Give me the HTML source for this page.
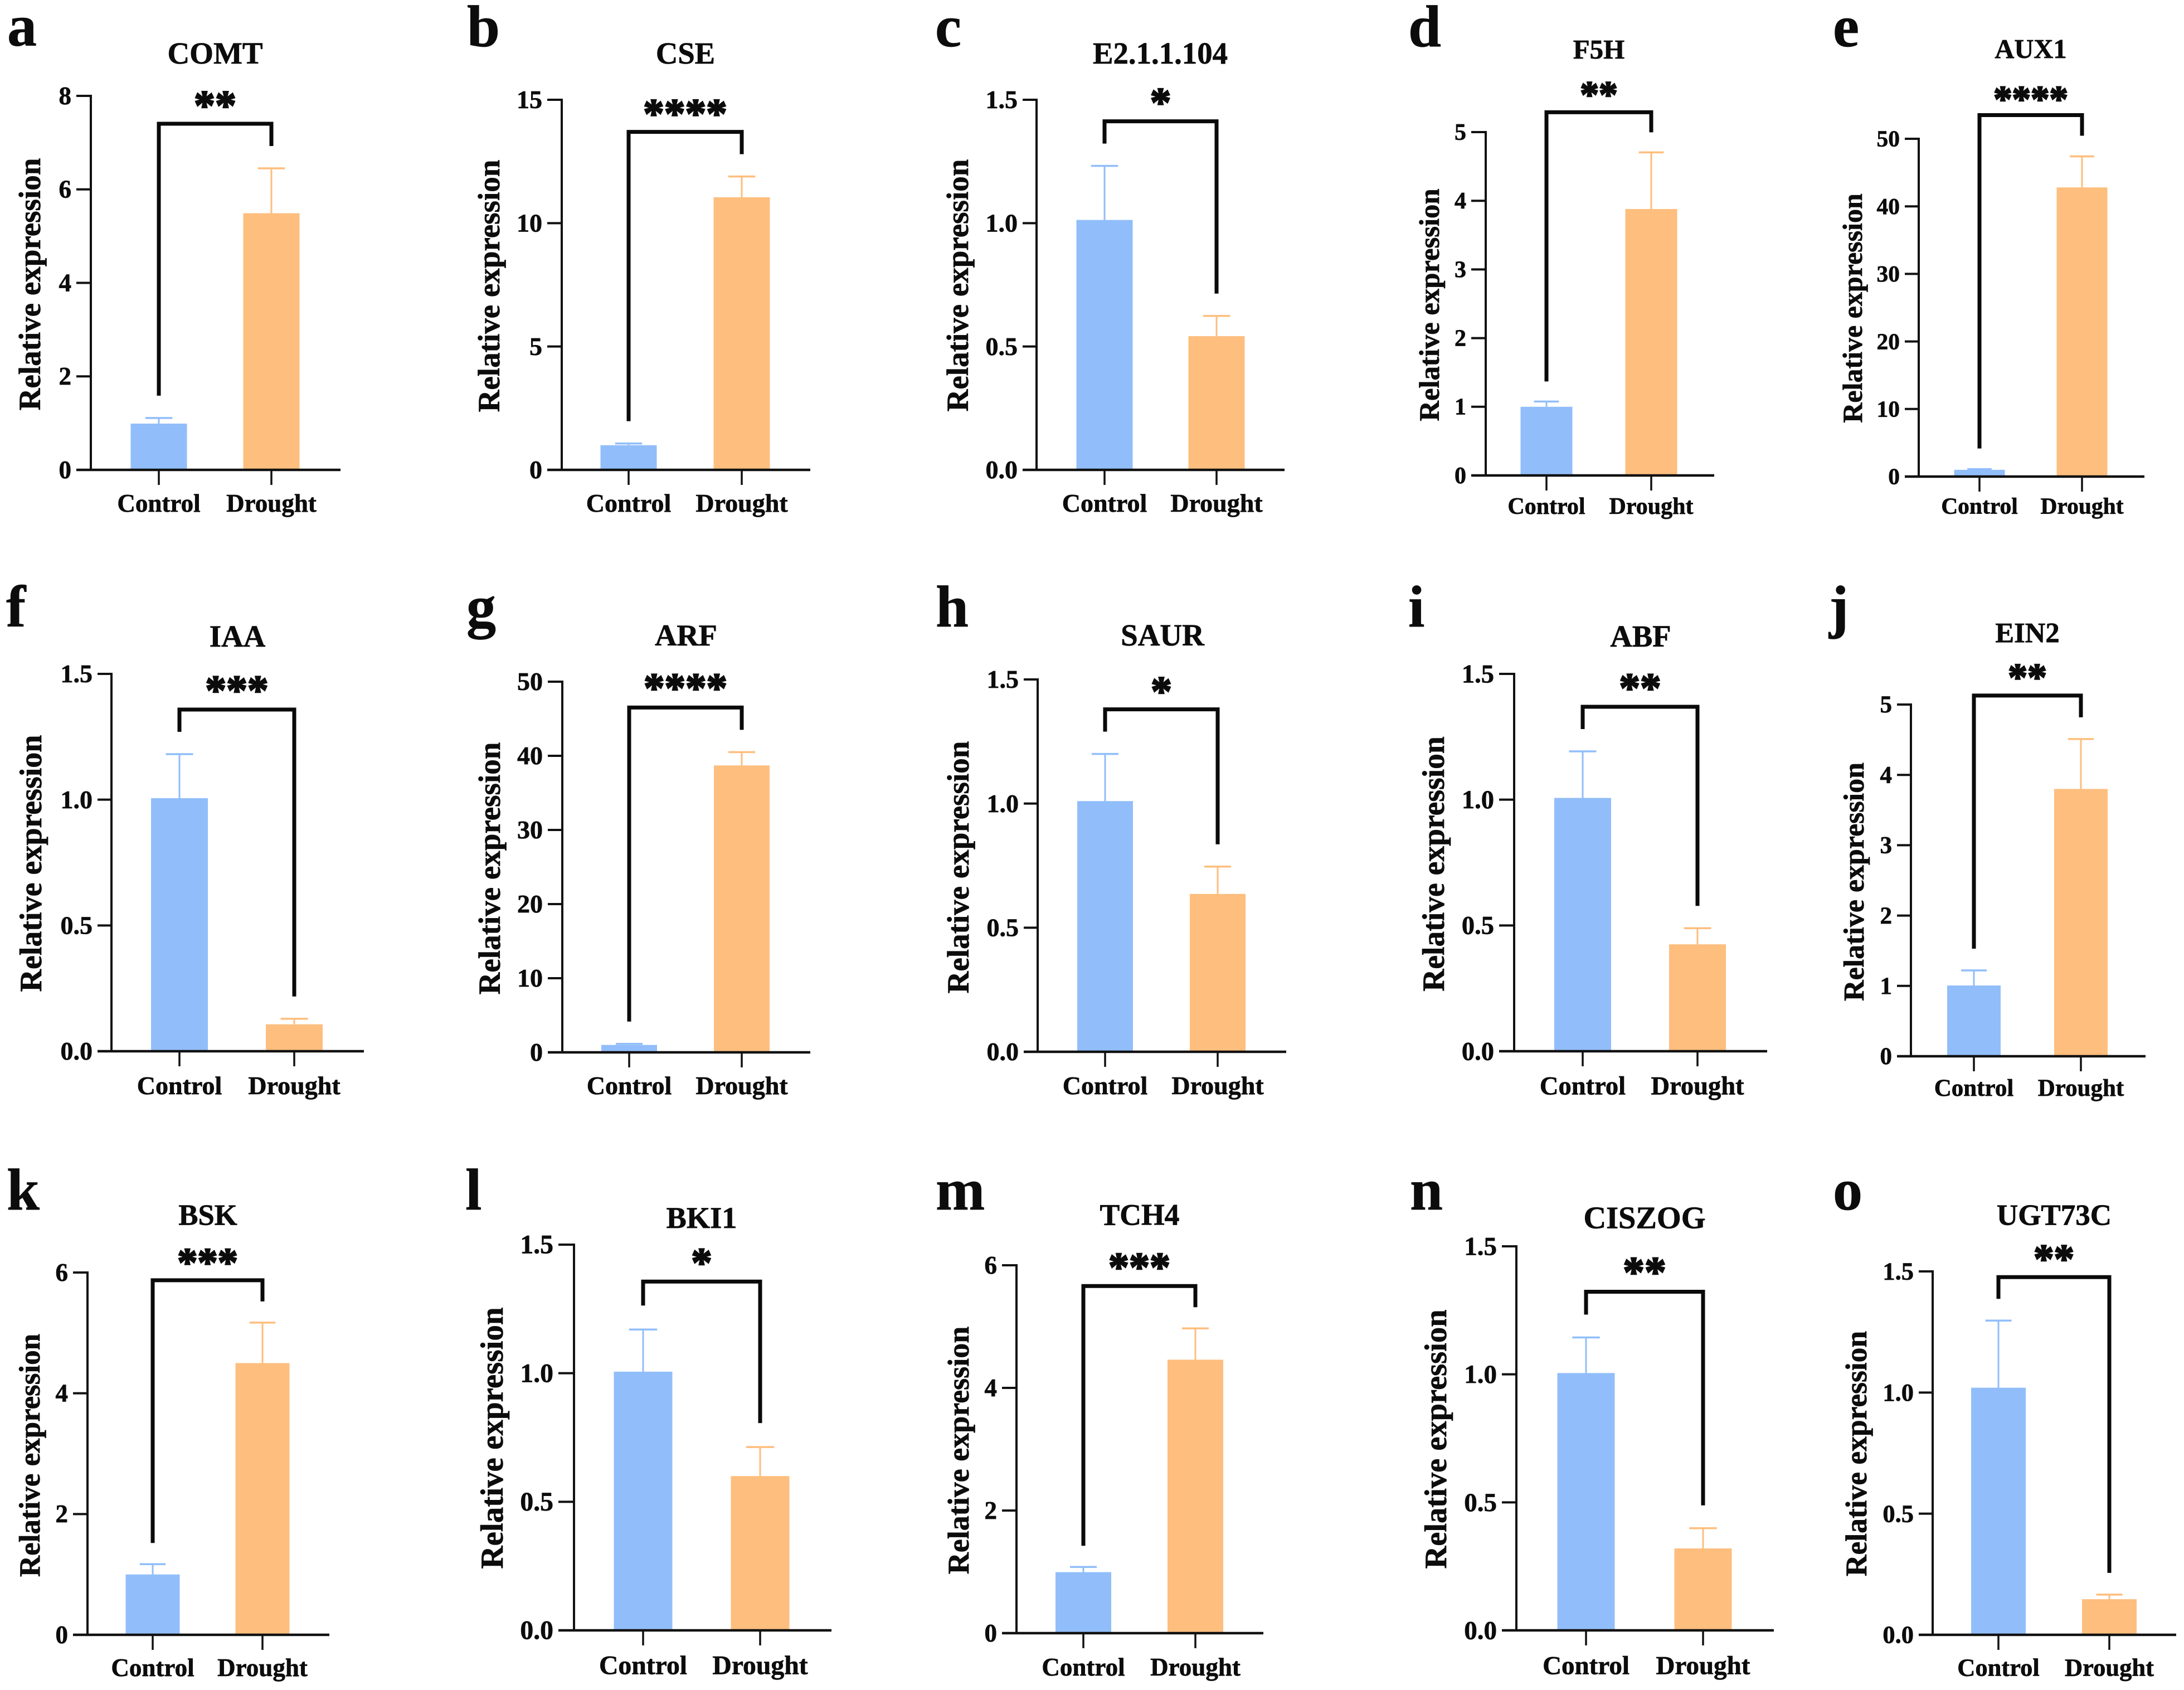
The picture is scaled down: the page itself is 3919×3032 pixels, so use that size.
<!DOCTYPE html>
<html lang="en">
<head>
<meta charset="utf-8">
<title>Relative expression of genes under drought</title>
<style>
html,body{margin:0;padding:0;background:#fff;}
svg{display:block;}
text{font-family:"Liberation Serif","Noto Serif CJK SC",serif;font-weight:700;fill:#0c0c0c;stroke:#0c0c0c;stroke-width:0.7px;}
</style>
</head>
<body>
<svg id="figure" xmlns="http://www.w3.org/2000/svg" width="3919" height="3032" viewBox="0 0 3919 3032">
<rect x="0" y="0" width="3919" height="3032" fill="#ffffff"/>
</svg>
<script>
// ---- chart data ----
const panelLetters = ['a','b','c','d','e','f','g','h','i','j','k','l','m','n','o'];
const geneNames = ['COMT','CSE','E2.1.1.104','F5H','AUX1','IAA','ARF','SAUR','ABF','EIN2','BSK','BKI1','TCH4','CISZOG','UGT73C'];
const categories = ['Control','Drought'];
const yAxisTitle = 'Relative expression';
const controlMeans = [0.99,1.0,1.013,1.0,1.0,1.006,1.0,1.01,1.007,1.006,1.0,1.006,0.995,1.005,1.02];
const controlErrors = [0.12,0.07,0.219,0.077,0.1,0.175,0.15,0.19,0.185,0.214,0.17,0.164,0.085,0.139,0.277];
const droughtMeans = [5.49,11.05,0.542,3.88,42.8,0.107,38.7,0.636,0.425,3.8,4.5,0.6,4.46,0.32,0.147];
const droughtErrors = [0.96,0.84,0.082,0.825,4.6,0.022,1.8,0.11,0.064,0.71,0.67,0.113,0.51,0.079,0.019];
const significance = ['**','****','*','**','****','***','****','*','**','**','***','*','***','**','**'];
const tickLabels = [
  ['0','2','4','6','8'],
  ['0','5','10','15'],
  ['0.0','0.5','1.0','1.5'],
  ['0','1','2','3','4','5'],
  ['0','10','20','30','40','50'],
  ['0.0','0.5','1.0','1.5'],
  ['0','10','20','30','40','50'],
  ['0.0','0.5','1.0','1.5'],
  ['0.0','0.5','1.0','1.5'],
  ['0','1','2','3','4','5'],
  ['0','2','4','6'],
  ['0.0','0.5','1.0','1.5'],
  ['0','2','4','6'],
  ['0.0','0.5','1.0','1.5'],
  ['0.0','0.5','1.0','1.5']
];

// ---- page geometry (plot frames, not data) ----
const frames = [
  {ax:163,top:172,y0:843,xEnd:611,tl:137,c1:285,c2:487,bw:101,tx:386,ty:96,tfs:55,ylB:72,ylC:510,yfs:55,tick:45,lab:903,lx:13,lb:82,gap:40,sg:43},
  {ax:1008,top:179,y0:843,xEnd:1454,tl:982,c1:1128,c2:1331,bw:101,tx:1230,ty:96,tfs:54.6,ylB:896,ylC:513,yfs:55,tick:46,lab:903,lx:838,lb:83,gap:40,sg:43},
  {ax:1860,top:179,y0:843,xEnd:2305,tl:1835,c1:1982,c2:2183,bw:101,tx:2082,ty:96,tfs:54.8,ylB:1737,ylC:512,yfs:55,tick:46,lab:903,lx:1678,lb:83,gap:40,sg:44},
  {ax:2666,top:237,y0:853,xEnd:3076,tl:2640,c1:2775,c2:2963,bw:93,tx:2869,ty:89,tfs:49,ylB:2582,ylC:547,yfs:50.7,tick:42,lab:908,lx:2527,lb:83,gap:36,sg:41},
  {ax:3443,top:249,y0:855,xEnd:3848,tl:3418,c1:3552,c2:3736,bw:91,tx:3644,ty:88,tfs:48.5,ylB:3341,ylC:553,yfs:50,tick:41.5,lab:908,lx:3289,lb:83,gap:37,sg:38},
  {ax:200,top:1209,y0:1886,xEnd:653,tl:175,c1:322,c2:528,bw:102,tx:426,ty:1142,tfs:54.8,ylB:74,ylC:1549,yfs:56,tick:46,lab:1948,lx:11,lb:1124,gap:40,sg:45},
  {ax:1009,top:1223,y0:1888,xEnd:1454,tl:983,c1:1129,c2:1331,bw:100,tx:1231,ty:1140,tfs:54.4,ylB:897,ylC:1558,yfs:55,tick:46,lab:1948,lx:837,lb:1124,gap:40,sg:45},
  {ax:1862,top:1219,y0:1887,xEnd:2308,tl:1837,c1:1983,c2:2185,bw:100,tx:2086,ty:1140,tfs:55,ylB:1738,ylC:1556,yfs:55,tick:46,lab:1948,lx:1679,lb:1124,gap:40,sg:43},
  {ax:2717,top:1209,y0:1886,xEnd:3171,tl:2690,c1:2840,c2:3046,bw:102,tx:2944,ty:1142,tfs:54.6,ylB:2591,ylC:1550,yfs:55.6,tick:46.5,lab:1948,lx:2527,lb:1124,gap:40,sg:44},
  {ax:3429,top:1264,y0:1895,xEnd:3850,tl:3404,c1:3542,c2:3734,bw:96,tx:3638,ty:1136,tfs:50.6,ylB:3344,ylC:1582,yfs:52,tick:43,lab:1952,lx:3282,lb:1124,gap:39,sg:42},
  {ax:157,top:2283,y0:2933,xEnd:591,tl:131,c1:274,c2:471,bw:97,tx:373,ty:2180,tfs:52.6,ylB:71,ylC:2611,yfs:53,tick:45,lab:2992,lx:12,lb:2170,gap:38,sg:42},
  {ax:1030,top:2233,y0:2925,xEnd:1492,tl:1002,c1:1154,c2:1364,bw:105,tx:1259,ty:2185,tfs:54.3,ylB:902,ylC:2580,yfs:57,tick:47.7,lab:2988,lx:835,lb:2170,gap:43,sg:44},
  {ax:1824,top:2270,y0:2930,xEnd:2267,tl:1798,c1:1944,c2:2145,bw:100,tx:2045,ty:2180,tfs:53.6,ylB:1738,ylC:2602,yfs:54,tick:45,lab:2991,lx:1679,lb:2170,gap:38,sg:44},
  {ax:2721,top:2236,y0:2925,xEnd:3183,tl:2695,c1:2846,c2:3056,bw:103,tx:2951,ty:2185,tfs:56.3,ylB:2595,ylC:2582,yfs:56.5,tick:47,lab:2988,lx:2530,lb:2170,gap:41,sg:46},
  {ax:3468,top:2281,y0:2933,xEnd:3905,tl:3443,c1:3586,c2:3785,bw:98,tx:3686,ty:2180,tfs:53,ylB:3349,ylC:2608,yfs:53.5,tick:44.5,lab:2992,lx:3289,lb:2170,gap:39,sg:43}
];

const NS = 'http://www.w3.org/2000/svg';
const figure = document.getElementById('figure');
const BLUE = '#91BEFA';
const ORANGE = '#FEBE7E';
const INK = '#111111';

function make(parent, tag, attrs, content) {
  const node = document.createElementNS(NS, tag);
  for (const key in attrs) node.setAttribute(key, attrs[key]);
  if (content !== undefined) node.textContent = content;
  parent.appendChild(node);
  return node;
}
function makeYScale(frame, axisMax) {
  return function (value) {
    return frame.y0 - (value / axisMax) * (frame.y0 - frame.top);
  };
}

geneNames.forEach(function (gene, i) {
  const f = frames[i];
  const labels = tickLabels[i];
  const axisMax = parseFloat(labels[labels.length - 1]);
  const y = makeYScale(f, axisMax);
  const xCenters = [f.c1, f.c2];
  const means = [controlMeans[i], droughtMeans[i]];
  const errors = [controlErrors[i], droughtErrors[i]];
  const fills = [BLUE, ORANGE];

  const group = make(figure, 'g', {});
  
  

  const letter = make(group, 'text', {x: f.lx, y: f.lb, 'font-size': 106, 'text-anchor': 'start'}, panelLetters[i]);
  
  

  const title = make(group, 'text', {x: f.tx, y: f.ty + 0.33 * f.tfs, 'font-size': f.tfs, 'text-anchor': 'middle'}, gene);
  
  

  const yTitle = make(group, 'text', {
    x: 0, y: 0, 'font-size': f.yfs, 'text-anchor': 'middle',
    transform: 'translate(' + f.ylB + ' ' + f.ylC + ') rotate(-90)'
  }, yAxisTitle);
  
  

  // bars and error bars
  categories.forEach(function (category, c) {
    const top = y(means[c]);
    const bar = make(group, 'rect', {x: xCenters[c] - f.bw / 2, y: top, width: f.bw, height: f.y0 - top, fill: fills[c]});
    
    

    const capY = y(means[c] + errors[c]);
    const capHalf = f.bw * 0.24;
    const stem = make(group, 'line', {x1: xCenters[c], x2: xCenters[c], y1: top, y2: capY, stroke: fills[c], 'stroke-width': 3});
    
    
    const cap = make(group, 'line', {x1: xCenters[c] - capHalf, x2: xCenters[c] + capHalf, y1: capY, y2: capY, stroke: fills[c], 'stroke-width': 3.5});
    
    

    const xTick = make(group, 'line', {x1: xCenters[c], x2: xCenters[c], y1: f.y0, y2: f.y0 + 27, stroke: INK, 'stroke-width': 3.5});
    
    

    const xLabel = make(group, 'text', {x: xCenters[c], y: f.lab + 0.33 * f.tick, 'font-size': f.tick, 'text-anchor': 'middle'}, category);
    
    
  });

  // axes
  const yAxis = make(group, 'line', {x1: f.ax, x2: f.ax, y1: f.top - 2, y2: f.y0 + 2, stroke: INK, 'stroke-width': 4});
  
  
  const xAxis = make(group, 'line', {x1: f.tl, x2: f.xEnd, y1: f.y0, y2: f.y0, stroke: INK, 'stroke-width': 4.5});
  
  

  labels.forEach(function (label) {
    const ty = y(parseFloat(label));
    const tick = make(group, 'line', {x1: f.tl, x2: f.ax, y1: ty, y2: ty, stroke: INK, 'stroke-width': 4});
    
    
    const tickText = make(group, 'text', {x: f.tl - 9, y: ty + 0.33 * f.tick, 'font-size': f.tick, 'text-anchor': 'end'}, label);
    
    
  });

  // significance bracket sits a fixed gap above each error cap
  const leftFoot = y(means[0] + errors[0]) - f.gap;
  const rightFoot = y(means[1] + errors[1]) - f.gap;
  const bracketY = Math.min(leftFoot, rightFoot) - f.gap;
  const bracket = make(group, 'path', {
    d: 'M' + f.c1 + ' ' + leftFoot + 'V' + bracketY + 'H' + f.c2 + 'V' + rightFoot,
    fill: 'none', stroke: '#0a0a0a', 'stroke-width': 7, 'stroke-linejoin': 'miter'
  });
  
  

  const starSize = f.tfs * 1.38;
  const stars = make(group, 'text', {
    x: (f.c1 + f.c2) / 2, y: bracketY - f.sg + 0.47 * starSize,
    'font-size': starSize, 'text-anchor': 'middle', style: 'stroke-width:2.5px'
  }, significance[i]);
  
  
});
</script>
</body>
</html>
